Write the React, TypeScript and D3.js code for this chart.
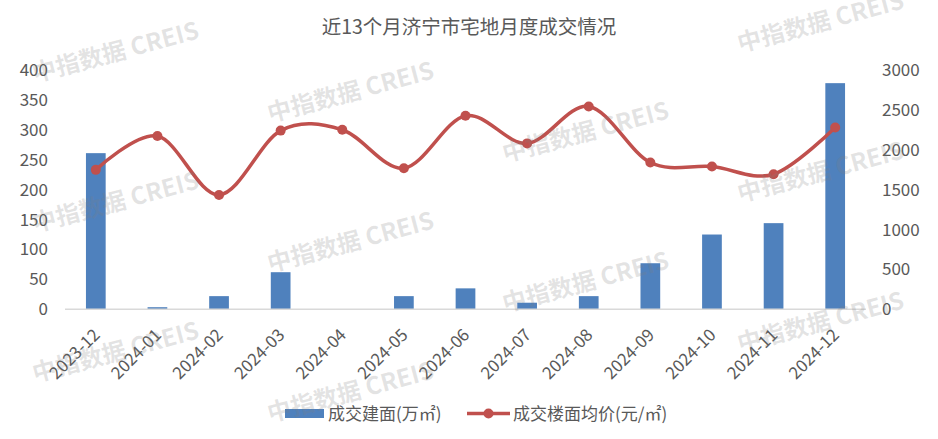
import React from "react";
import * as d3 from "d3";

const categories = ["2023-12","2024-01","2024-02","2024-03","2024-04","2024-05","2024-06","2024-07","2024-08","2024-09","2024-10","2024-11","2024-12"];
const areaValues = [261, 3.5, 22, 62, 0, 22, 35, 11, 22, 77, 125, 144, 378];
const priceValues = [1748, 2172, 1434, 2240, 2250, 1769, 2426, 2080, 2543, 1840, 1790, 1693, 2279];
const leftTicks = [0, 50, 100, 150, 200, 250, 300, 350, 400];
const rightTicks = [0, 500, 1000, 1500, 2000, 2500, 3000];
const title = "近13个月济宁市宅地月度成交情况";
const legendArea = "成交建面(万㎡)";
const legendPrice = "成交楼面均价(元/㎡)";
const watermarkText = "中指数据 CREIS";

const W = 938, H = 439;
const FONT = "'Microsoft YaHei', 'Noto Sans CJK SC', 'Noto Sans', sans-serif";
const TEXT = "#595959";
const BLUE = "#4F81BD";
const RED = "#C0504D";

export default function App() {
  const x = d3.scaleBand<string>().domain(categories).range([65, 866]).paddingInner(0.68).paddingOuter(0.34);
  const yL = d3.scaleLinear().domain([0, 400]).range([309.3, 70]);
  const yR = d3.scaleLinear().domain([0, 3000]).range([309.3, 70]);
  const cx = (c: string) => (x(c) as number) + x.bandwidth() / 2;
  const pts: [number, number][] = categories.map((c, i) => [cx(c), yR(priceValues[i])]);
  const line = d3.line().curve(d3.curveCardinal.tension(0))(pts) || "";

  const wms: { x: number; y: number }[] = [];
  for (let i = 0; i < 4; i++) {
    for (let j = -1; j < 4; j++) {
      const px = 115 + 235 * i;
      const py = 50 + 40 * i + 150 * j;
      if (py > 0 && py < H - 15) wms.push({ x: px, y: py });
    }
  }

  return (
    <svg width={W} height={H} style={{ position: "absolute", left: 0, top: 0, background: "#fff" }} fontFamily={FONT}>
      <rect width={W} height={H} fill="#fff" />
      <text x={469} y={34} textAnchor="middle" fontSize={19.5} fill={TEXT}>{title}</text>
      {leftTicks.map((t) => (
        <text key={"l" + t} x={48} y={yL(t) + 6} textAnchor="end" fontSize={17} fill={TEXT}>{t}</text>
      ))}
      {rightTicks.map((t) => (
        <text key={"r" + t} x={882} y={yR(t) + 6} textAnchor="start" fontSize={17} fill={TEXT}>{t}</text>
      ))}
      {categories.map((c, i) => (
        <rect key={"b" + c} x={x(c)} y={yL(areaValues[i])} width={x.bandwidth()} height={yL(0) - yL(areaValues[i])} fill={BLUE} />
      ))}
      <line x1={65} x2={866} y1={309.3} y2={309.3} stroke="#d9d9d9" strokeWidth={1.5} />
      {categories.map((c) => (
        <text key={"x" + c} transform={`translate(${cx(c) + 5},${336}) rotate(-45)`} textAnchor="end" fontSize={17} fill={TEXT}>{c}</text>
      ))}
      <path d={line} fill="none" stroke={RED} strokeWidth={3.5} strokeLinecap="round" />
      {pts.map((p, i) => (
        <circle key={"p" + i} cx={p[0]} cy={p[1]} r={5} fill={RED} />
      ))}
      <rect x={285} y={409} width={39} height={9} fill={BLUE} />
      <text x={328} y={420} fontSize={17} fill={TEXT}>{legendArea}</text>
      <line x1={467} x2={510} y1={413.5} y2={413.5} stroke={RED} strokeWidth={3.5} />
      <circle cx={488.5} cy={413.5} r={5} fill={RED} />
      <text x={513} y={420} fontSize={17} fill={TEXT}>{legendPrice}</text>
      {wms.map((w, i) => (
        <text key={"w" + i} transform={`translate(${w.x},${w.y}) rotate(-15)`} textAnchor="middle" dominantBaseline="central" fontSize={24} fontWeight="bold" fill="#7f7f7f" fillOpacity={0.22}>{watermarkText}</text>
      ))}
    </svg>
  );
}
